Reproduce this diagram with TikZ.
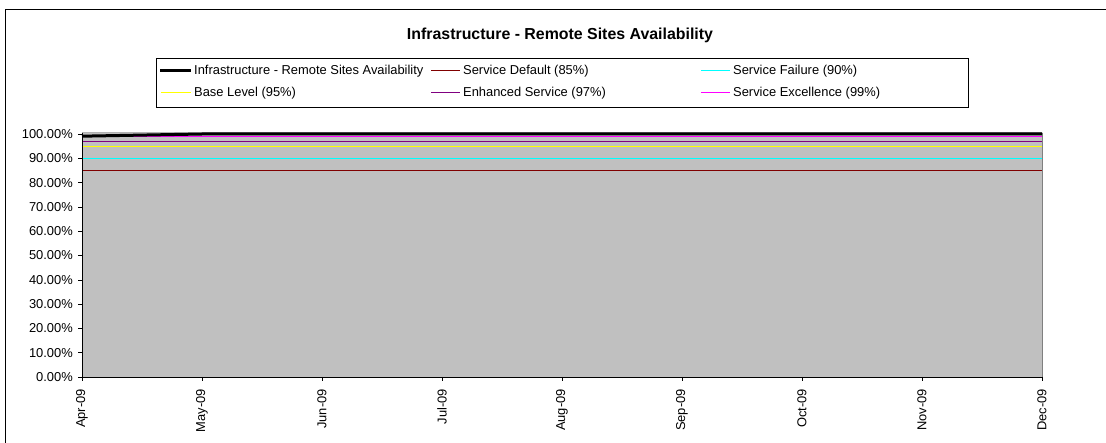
\documentclass[tikz,border=0pt]{standalone}
\usepackage{fontspec}
\setmainfont{Liberation Sans}
\definecolor{plotgrey}{RGB}{192,192,192}
\definecolor{sdred}{RGB}{128,0,0}
\definecolor{sfcyan}{RGB}{0,255,255}
\definecolor{blyellow}{RGB}{255,255,0}
\definecolor{enpurple}{RGB}{128,0,128}
\definecolor{sxmagenta}{RGB}{255,0,255}
\tikzset{
  lab/.style={inner sep=0pt, font=\fontsize{12.9}{14}\selectfont},
  ylab/.style={lab, anchor=east},
  xlab/.style={lab, anchor=east, rotate=90},
  keyline/.style={line width=1pt}
}
\begin{document}
\begin{tikzpicture}[x=1pt,y=-1pt]
    \useasboundingbox (0,0) rectangle (1106,443);
    \fill [white] (0,0) rectangle (1106,443);
    \draw [thin] (5,443) to (5,9) to (1106,9);
      % title
      \node [inner sep=0pt, font=\fontsize{15.9}{17}\selectfont\bfseries] (title) at (560,35)
        {Infrastructure - Remote Sites Availability};
      % legend
      \draw [thin] (156,58) rectangle (968,107);
      \node [lab, anchor=west] (k1) at (194,71) {Infrastructure - Remote Sites Availability};
      \node [lab, anchor=west] (k2) at (463,71) {Service Default (85\%)};
      \node [lab, anchor=west] (k3) at (733,71) {Service Failure (90\%)};
      \node [lab, anchor=west] (k4) at (194,93) {Base Level (95\%)};
      \node [lab, anchor=west] (k5) at (463,93) {Enhanced Service (97\%)};
      \node [lab, anchor=west] (k6) at (733,93) {Service Excellence (99\%)};
      \draw [line width=3pt] (160,71) to (191,71);
      \draw [keyline, sdred] (431,71) to (460,71);
      \draw [keyline, sfcyan] (701,71) to (730,71);
      \draw [keyline, blyellow] (161,93) to (191,93);
      \draw [keyline, enpurple] (431,93) to (460,93);
      \draw [keyline, sxmagenta] (701,93) to (730,93);
      % plot area
      \fill [plotgrey] (82,133) rectangle (1042,377);
      \draw [gray!60] (82,132.5) to (1042,132.5);
      \draw [gray] (1042,133) to (1042,377);
      \draw [keyline, sdred] (82,{377-2.43*85}) to (1042,{377-2.43*85});
      \draw [keyline, sfcyan] (82,{377-2.43*90}) to (1042,{377-2.43*90});
      \draw [keyline, blyellow] (82,{377-2.43*95}) to (1042,{377-2.43*95});
      \draw [keyline, enpurple] (82,{377-2.43*97}) to (1042,{377-2.43*97});
      \draw [line width=1.6pt, sxmagenta] (82,{377-2.43*99}) to (1042,{377-2.43*99});
      \draw [line width=3pt] (82,{377-2.43*99.1}) to (202,{377-2.43*100}) to (1042,{377-2.43*100});
      % axes
      \draw [thin] (82,133) to (82,377) to (1042,377);
      \foreach \v/\t in {0/0.00,1/10.00,2/20.00,3/30.00,4/40.00,5/50.00,6/60.00,7/70.00,8/80.00,9/90.00,10/100.00}
      {
        \draw [thin] (78,{377-24.3*\v}) to (82,{377-24.3*\v});
        \node [ylab] (y\v) at (73,{377-24.3*\v}) {\t\%};
      }
      \foreach \m [count=\i from 0] in {Apr,May,Jun,Jul,Aug,Sep,Oct,Nov,Dec}
      {
        \draw [thin] ({82+120*\i},377) to ({82+120*\i},381);
        \node [xlab] (m\i) at ({82+120*\i},389) {\m-09};
      }
  \end{tikzpicture}
\end{document}
